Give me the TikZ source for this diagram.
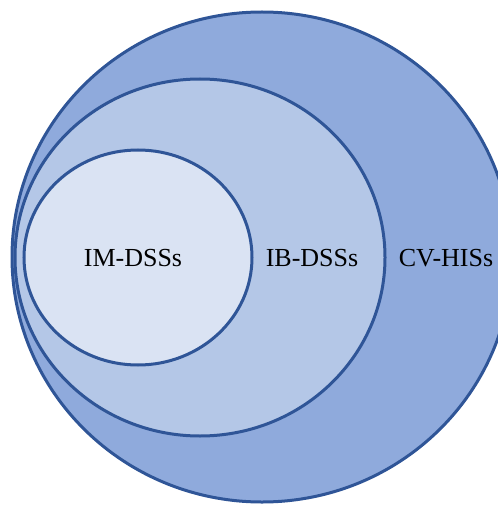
\documentclass[tikz,border=0pt]{standalone}
\usepackage{fontspec}
\setmainfont{Liberation Serif}
\usetikzlibrary{shapes.geometric}
\definecolor{ringline}{RGB}{47,85,151}
\definecolor{ringouter}{RGB}{143,170,220}
\definecolor{ringmid}{RGB}{180,199,231}
\definecolor{ringinner}{RGB}{218,227,243}
\tikzset{
  ring/.style={draw=ringline, line width=3pt, ellipse, inner sep=0pt},
  tag/.style={font=\fontsize{26}{30}\selectfont, inner sep=0pt}
}
\begin{document}
\begin{tikzpicture}[x=1pt,y=-1pt]
  \useasboundingbox (0,0) rectangle (497,505);
  % nested sets
  \node[ring, fill=ringouter, minimum width=500pt, minimum height=490pt] (cvhis) at (262,257) {};
  \node[ring, fill=ringmid, minimum width=370pt, minimum height=357pt] (ibdss) at (200,257.5) {};
  \node[ring, fill=ringinner, minimum width=228pt, minimum height=215pt] (imdss) at (138,257.5) {};
  % labels
  \node[tag] (imlabel) at (133,258) {IM-DSSs};
  \node[tag] (iblabel) at (312,258) {IB-DSSs};
  \node[tag] (cvlabel) at (446,258) {CV-HISs};
\end{tikzpicture}
\end{document}
